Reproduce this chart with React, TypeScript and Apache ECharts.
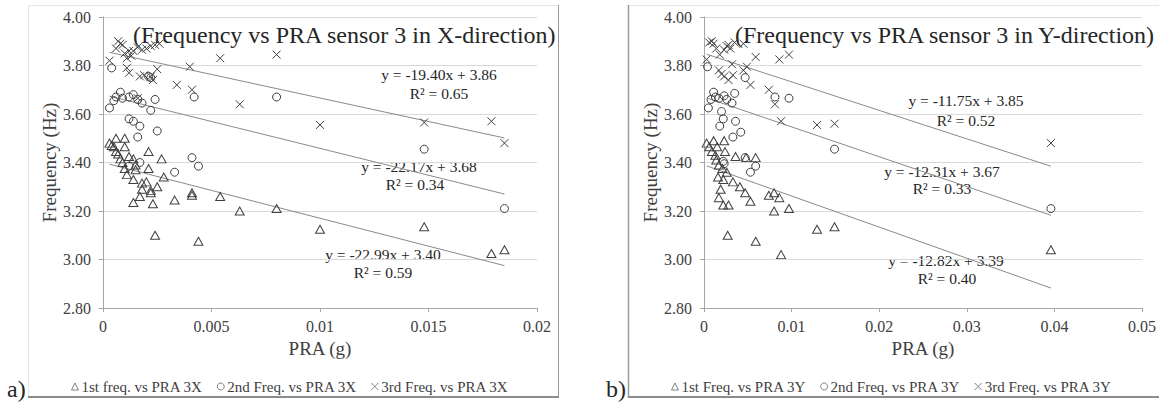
import React, { useEffect, useRef } from "react";
import * as echarts from "echarts";

const FONT = "Times New Roman";

// ---- Panel a) : PRA sensor 3, X-direction ----
const seriesNamesX = ["1st freq. vs PRA 3X", "2nd Freq. vs PRA 3X", "3rd Freq. vs PRA 3X"];
const xFirst: number[][] = [
  [0.0003, 3.48], [0.0004, 3.47], [0.0006, 3.5], [0.0005, 3.465], [0.0006, 3.445], [0.0007, 3.435],
  [0.001, 3.5], [0.001, 3.465], [0.0008, 3.415], [0.0009, 3.4], [0.001, 3.375], [0.0011, 3.35],
  [0.0012, 3.425], [0.0014, 3.415], [0.0015, 3.37], [0.0015, 3.39], [0.0021, 3.445], [0.0027, 3.415],
  [0.0021, 3.375], [0.0028, 3.34], [0.0014, 3.33], [0.0018, 3.315], [0.002, 3.32], [0.0025, 3.3],
  [0.0022, 3.285], [0.0014, 3.235], [0.0017, 3.26], [0.0018, 3.29], [0.0022, 3.275], [0.0023, 3.23],
  [0.0033, 3.245], [0.0041, 3.275], [0.0041, 3.265], [0.0054, 3.26], [0.0063, 3.2], [0.008, 3.21],
  [0.0024, 3.1], [0.0044, 3.075], [0.01, 3.125], [0.0148, 3.135], [0.0179, 3.025], [0.0185, 3.04],
];
const xSecond: number[][] = [
  [0.0003, 3.625], [0.0004, 3.79], [0.0005, 3.655], [0.0006, 3.67], [0.0008, 3.69], [0.0009, 3.665],
  [0.0012, 3.67], [0.0014, 3.68], [0.0016, 3.66], [0.0018, 3.645], [0.0022, 3.615], [0.0024, 3.66],
  [0.0012, 3.58], [0.0014, 3.57], [0.0017, 3.55], [0.0016, 3.505], [0.0025, 3.53], [0.0021, 3.755],
  [0.0022, 3.75], [0.0042, 3.67], [0.008, 3.67], [0.0017, 3.4], [0.0012, 3.385], [0.0033, 3.36],
  [0.0041, 3.42], [0.0044, 3.385], [0.0148, 3.455], [0.0185, 3.21],
];
const xThird: number[][] = [
  [0.0003, 3.82], [0.0007, 3.9], [0.0008, 3.89], [0.0009, 3.885], [0.001, 3.85], [0.0011, 3.83],
  [0.0011, 3.79], [0.0012, 3.77], [0.0013, 3.84], [0.0014, 3.86], [0.0016, 3.875], [0.0017, 3.755],
  [0.0016, 3.665], [0.0019, 3.76], [0.002, 3.87], [0.0022, 3.88], [0.0022, 3.755], [0.0023, 3.74],
  [0.0024, 3.885], [0.0025, 3.785], [0.0026, 3.89], [0.0006, 3.87], [0.0012, 3.86], [0.0018, 3.865],
  [0.0034, 3.72], [0.004, 3.795], [0.0041, 3.7], [0.0054, 3.83], [0.0063, 3.64], [0.008, 3.845],
  [0.01, 3.555], [0.0148, 3.565], [0.0179, 3.57], [0.0185, 3.48],
];
const xSlopes = [-22.99, -22.17, -19.4];
const xIntercepts = [3.4, 3.68, 3.86];
const xR2 = ["0.59", "0.34", "0.65"];

// ---- Panel b) : PRA sensor 3, Y-direction ----
const seriesNamesY = ["1st Freq. vs PRA 3Y", "2nd Freq. vs PRA 3Y", "3rd Freq. vs PRA 3Y"];
const yFirst: number[][] = [
  [0.0003, 3.48], [0.0006, 3.465], [0.0011, 3.49], [0.0009, 3.445], [0.0013, 3.43], [0.0015, 3.465],
  [0.0023, 3.49], [0.0024, 3.445], [0.0014, 3.41], [0.0017, 3.39], [0.0021, 3.375], [0.0026, 3.36],
  [0.0036, 3.425], [0.0048, 3.42], [0.0059, 3.42], [0.0016, 3.34], [0.0022, 3.33], [0.0033, 3.32],
  [0.0041, 3.3], [0.0047, 3.275], [0.0019, 3.29], [0.0017, 3.255], [0.0022, 3.225], [0.0028, 3.225],
  [0.0053, 3.24], [0.0074, 3.265], [0.008, 3.275], [0.0086, 3.255], [0.008, 3.2], [0.0097, 3.21],
  [0.0129, 3.125], [0.0149, 3.135], [0.0027, 3.1], [0.0059, 3.075], [0.0088, 3.02], [0.0396, 3.04],
];
const ySecond: number[][] = [
  [0.0004, 3.795], [0.0005, 3.625], [0.0008, 3.66], [0.0011, 3.69], [0.0013, 3.67], [0.0017, 3.665],
  [0.0023, 3.675], [0.0026, 3.66], [0.0032, 3.645], [0.0035, 3.685], [0.002, 3.61], [0.0022, 3.58],
  [0.0018, 3.55], [0.0036, 3.57], [0.0042, 3.525], [0.0033, 3.505], [0.0047, 3.75], [0.0081, 3.67],
  [0.0097, 3.665], [0.0149, 3.455], [0.0396, 3.21], [0.0022, 3.405], [0.0023, 3.395], [0.0047, 3.42],
  [0.0053, 3.36], [0.0059, 3.385],
];
const yThird: number[][] = [
  [0.0003, 3.825], [0.0006, 3.895], [0.0009, 3.9], [0.0011, 3.89], [0.0014, 3.87], [0.0018, 3.845],
  [0.0023, 3.865], [0.0026, 3.88], [0.0028, 3.885], [0.003, 3.87], [0.0035, 3.895], [0.0045, 3.89],
  [0.0032, 3.805], [0.0017, 3.78], [0.002, 3.765], [0.0023, 3.755], [0.0028, 3.74], [0.0033, 3.76],
  [0.0045, 3.78], [0.0049, 3.795], [0.0053, 3.72], [0.0059, 3.835], [0.0086, 3.825], [0.0097, 3.845],
  [0.0074, 3.7], [0.0081, 3.64], [0.0088, 3.57], [0.0129, 3.555], [0.0149, 3.56], [0.0396, 3.48],
];
const ySlopes = [-12.82, -12.31, -11.75];
const yIntercepts = [3.39, 3.67, 3.85];
const yR2 = ["0.40", "0.33", "0.52"];

const yTicks = [2.8, 3.0, 3.2, 3.4, 3.6, 3.8, 4.0];

const CROSS = "path://M0,0L10,10M10,0L0,10";
const SYMBOLS = ["triangle", "circle", CROSS];
const SIZES = [[9, 8], 8, 8];
const INK = "#404040";

function trend(data: number[][], slope: number, intercept: number) {
  const xs = data.map((d) => d[0]);
  const lo = Math.min(...xs);
  const hi = Math.max(...xs);
  return [
    [lo, intercept + slope * lo],
    [hi, intercept + slope * hi],
  ];
}

function eqText(slope: number, intercept: number) {
  return `y = ${slope.toFixed(2)}x + ${intercept.toFixed(2)}`;
}

export default function App() {
  const ref = useRef<HTMLDivElement>(null);

  useEffect(() => {
    if (!ref.current) return;
    const chart = echarts.init(ref.current, undefined, { renderer: "svg" });

    const scatter = (name: string, data: number[][], k: number, idx: number) => ({
      type: "scatter",
      name,
      data,
      xAxisIndex: idx,
      yAxisIndex: idx,
      symbol: SYMBOLS[k],
      symbolSize: SIZES[k],
      itemStyle: { color: "rgba(0,0,0,0)", borderColor: INK, borderWidth: 1, opacity: 1 },
      z: 3,
    });
    const trendLine = (data: number[][], idx: number) => ({
      type: "line",
      data,
      xAxisIndex: idx,
      yAxisIndex: idx,
      showSymbol: false,
      symbol: "none",
      silent: true,
      lineStyle: { color: "#8a8a8a", width: 1 },
      z: 2,
    });

    const xSets = [xFirst, xSecond, xThird];
    const ySets = [yFirst, ySecond, yThird];

    const series: any[] = [];
    xSets.forEach((d, k) => series.push(scatter(seriesNamesX[k], d, k, 0)));
    ySets.forEach((d, k) => series.push(scatter(seriesNamesY[k], d, k, 1)));
    xSets.forEach((d, k) => series.push(trendLine(trend(d, xSlopes[k], xIntercepts[k]), 0)));
    ySets.forEach((d, k) => series.push(trendLine(trend(d, ySlopes[k], yIntercepts[k]), 1)));

    const eqPosX = [[383, 254, 383, 272], [419, 166, 415, 184], [439, 74, 439, 93]];
    const eqPosY = [[946, 260, 947, 278], [942, 171, 942, 188], [966, 100, 966, 120]];

    const txt = (text: string, x: number, y: number, size: number, align = "center") => ({
      type: "text",
      x,
      y,
      silent: true,
      style: { text, fill: "#262626", fontFamily: FONT, fontSize: size, align, verticalAlign: "middle" },
    });

    const graphics: any[] = [];
    graphics.push({ type: "rect", shape: { x: 28.5, y: 5.5, width: 530, height: 392 }, style: { fill: "none", stroke: "#e6e6e6", lineWidth: 1 }, silent: true, z: -1 });
    graphics.push({ type: "line", shape: { x1: 558.5, y1: 5, x2: 558.5, y2: 398 }, style: { stroke: "#9a9a9a", lineWidth: 1 }, silent: true });
    graphics.push({ type: "line", shape: { x1: 28, y1: 397, x2: 559, y2: 397 }, style: { stroke: "#8c8c8c", lineWidth: 2 }, silent: true });
    graphics.push({ type: "rect", shape: { x: 628.5, y: 5.5, width: 540, height: 392 }, style: { fill: "none", stroke: "#e6e6e6", lineWidth: 1 }, silent: true, z: -1 });
    graphics.push({ type: "line", shape: { x1: 628.5, y1: 5, x2: 628.5, y2: 398 }, style: { stroke: "#9a9a9a", lineWidth: 1.5 }, silent: true });
    graphics.push({ type: "line", shape: { x1: 628, y1: 397, x2: 1159, y2: 397 }, style: { stroke: "#8c8c8c", lineWidth: 2 }, silent: true });

    graphics.push(txt("(Frequency vs PRA sensor 3 in X-direction)", 133, 35, 24, "left"));
    graphics.push(txt("(Frequency vs PRA sensor 3 in Y-direction)", 735, 35, 24, "left"));
    graphics.push(txt("a)", 7, 389, 24, "left"));
    graphics.push(txt("b)", 606, 389, 24, "left"));

    for (let k = 0; k < 3; k++) {
      const p = eqPosX[k];
      graphics.push(txt(eqText(xSlopes[k], xIntercepts[k]), p[0], p[1], 15.5));
      graphics.push(txt(`R² = ${xR2[k]}`, p[2], p[3], 15.5));
      const q = eqPosY[k];
      graphics.push(txt(eqText(ySlopes[k], yIntercepts[k]), q[0], q[1], 15.5));
      graphics.push(txt(`R² = ${yR2[k]}`, q[2], q[3], 15.5));
    }

    const legendBase = (left: number, names: string[]) => ({
      left,
      top: 374,
      orient: "horizontal",
      itemWidth: 7,
      itemHeight: 7,
      itemGap: 14,
      selectedMode: false,
      data: names.map((n, k) => ({ name: n, icon: SYMBOLS[k] })),
      itemStyle: { color: "rgba(0,0,0,0)", borderColor: "#7f7f7f", borderWidth: 1 },
      textStyle: { fontFamily: FONT, fontSize: 15, color: INK, padding: [0, 0, 0, -2] },
    });

    const lineGray = { color: "#a6a6a6" };

    chart.setOption({
      animation: false,
      grid: [
        { left: 103, top: 17, width: 434, height: 291 },
        { left: 704, top: 17, width: 439, height: 291 },
      ],
      xAxis: [
        {
          gridIndex: 0, type: "value", min: 0, max: 0.02, interval: 0.005,
          name: "PRA (g)", nameLocation: "middle", nameGap: 31,
          nameTextStyle: { fontFamily: FONT, fontSize: 19, color: INK },
          axisLine: { show: true, lineStyle: lineGray },
          axisTick: { show: true, length: 4, lineStyle: lineGray },
          splitLine: { show: false },
          axisLabel: {
            fontFamily: FONT, fontSize: 16, color: INK, margin: 10,
            formatter: (v: number) => (v === 0 ? "0" : String(+v.toFixed(4))),
          },
        },
        {
          gridIndex: 1, type: "value", min: 0, max: 0.05, interval: 0.01,
          name: "PRA (g)", nameLocation: "middle", nameGap: 31,
          nameTextStyle: { fontFamily: FONT, fontSize: 19, color: INK },
          axisLine: { show: true, lineStyle: lineGray },
          axisTick: { show: true, length: 4, lineStyle: lineGray },
          splitLine: { show: false },
          axisLabel: {
            fontFamily: FONT, fontSize: 16, color: INK, margin: 10,
            formatter: (v: number) => (v === 0 ? "0" : String(+v.toFixed(4))),
          },
        },
      ],
      yAxis: [
        {
          gridIndex: 0, type: "value", min: yTicks[0], max: yTicks[yTicks.length - 1], interval: 0.2,
          name: "Frequency (Hz)", nameLocation: "middle", nameGap: 43,
          nameTextStyle: { fontFamily: FONT, fontSize: 19, color: INK },
          axisLine: { show: true, lineStyle: lineGray },
          axisTick: { show: true, length: 4, lineStyle: lineGray },
          splitLine: { show: true, lineStyle: { color: "#d9d9d9" } },
          axisLabel: { fontFamily: FONT, fontSize: 16, color: INK, margin: 12, formatter: (v: number) => v.toFixed(2) },
        },
        {
          gridIndex: 1, type: "value", min: yTicks[0], max: yTicks[yTicks.length - 1], interval: 0.2,
          name: "Frequency (Hz)", nameLocation: "middle", nameGap: 43,
          nameTextStyle: { fontFamily: FONT, fontSize: 19, color: INK },
          axisLine: { show: true, lineStyle: lineGray },
          axisTick: { show: true, length: 4, lineStyle: lineGray },
          splitLine: { show: true, lineStyle: { color: "#d9d9d9" } },
          axisLabel: { fontFamily: FONT, fontSize: 16, color: INK, margin: 12, formatter: (v: number) => v.toFixed(2) },
        },
      ],
      legend: [legendBase(66, seriesNamesX), legendBase(666, seriesNamesY)],
      series,
      graphic: graphics,
    });

    return () => chart.dispose();
  }, []);

  return (
    <div
      ref={ref}
      style={{ position: "absolute", left: 0, top: 0, width: 1159, height: 402, background: "#fff" }}
    />
  );
}
